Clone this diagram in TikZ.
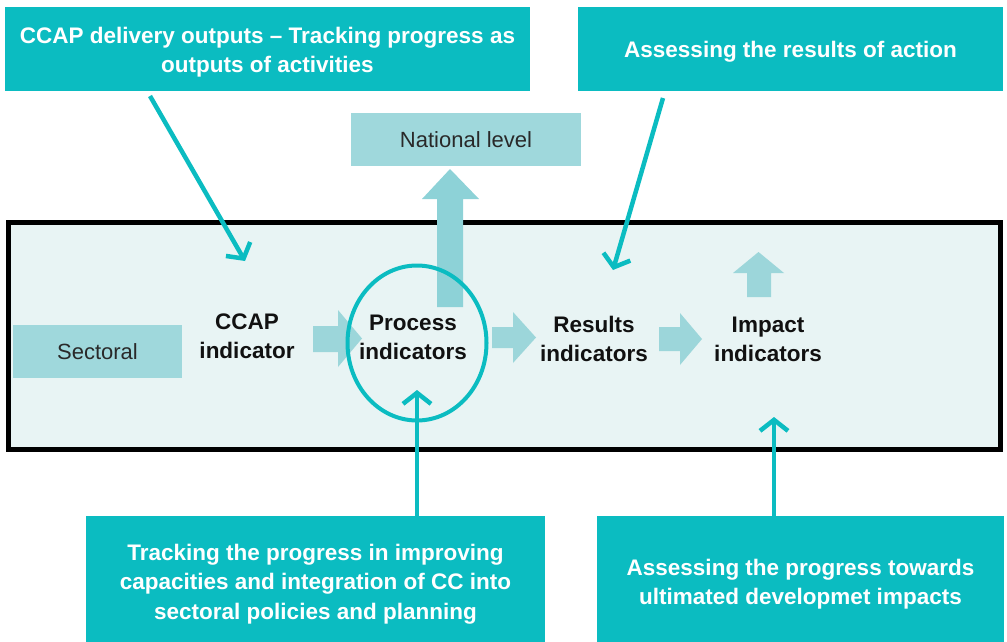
\documentclass[tikz,border=0pt]{standalone}
\usepackage{fontspec}
\setmainfont{Liberation Sans}
\usetikzlibrary{arrows.meta,shapes.geometric}
\definecolor{tealA}{HTML}{0BBCC1}
\definecolor{ltealA}{HTML}{9FD8DC}
\definecolor{fatA}{HTML}{9CD6DA}
\definecolor{shaftA}{HTML}{8DD2D7}
\definecolor{panelA}{HTML}{E8F4F4}
\definecolor{inkA}{HTML}{111111}
\begin{document}
\begin{tikzpicture}[x=1pt,y=-1pt,
  tealbox/.style={fill=tealA, inner sep=0pt},
  wtext/.style={text=white, font=\fontsize{22.5}{29.5}\selectfont\bfseries, align=center, inner sep=0pt},
  lbox/.style={fill=ltealA, text=inkA!90, font=\fontsize{22}{29}\selectfont, inner sep=0pt},
  lbl/.style={text=inkA, font=\fontsize{22.5}{29}\selectfont\bfseries, align=center, inner sep=0pt},
  pointer/.style={draw=tealA, line width=4.5pt, -{Straight Barb[length=11pt,width=28pt]}},
  fatarrow/.style={fill=fatA},
]
\useasboundingbox (0,0) rectangle (1007,642);

% main panel
\draw[fill=panelA, line width=5pt] (8.5,222.5) rectangle (1000,449.5);

% boxes
\node[tealbox, minimum width=525pt, minimum height=84pt] (tl) at (267.5,49) {};
\node[wtext] (tlt) at ([yshift=-3pt]tl.center) {CCAP delivery outputs -- Tracking progress as\\outputs of activities};
\node[tealbox, minimum width=425pt, minimum height=84pt] (tr) at (790.5,49) {};
\node[wtext] (trt) at ([yshift=-3pt]tr.center) {Assessing the results of action};
\node[tealbox, minimum width=459pt, minimum height=128pt] (bl) at (315.5,580) {};
\node[wtext] (blt) at ([yshift=-4pt]bl.center) {Tracking the progress in improving\\capacities and integration of CC into\\sectoral policies and planning};
\node[tealbox, minimum width=407pt, minimum height=128pt] (br) at (800.5,580) {};
\node[wtext] (brt) at ([yshift=-4pt]br.center) {Assessing the progress towards\\ultimated developmet impacts};
\node[lbox, minimum width=230pt, minimum height=53pt] (nat) at (466,139.5) {National level};
\node[lbox, minimum width=169pt, minimum height=53pt] (sec) at (97.5,351.5) {Sectoral};

% big up arrow to national level
\fill[shaftA] (437,307) -- (437,199) -- (422,199) -- (450,169) -- (479,199) -- (463,199) -- (463,307) -- cycle;
% small up arrow above impact
\fill[fatA] (747,297) -- (747,273) -- (733,273) -- (758.5,252) -- (784,273) -- (771,273) -- (771,297) -- cycle;

% fat right arrows
\fill[fatarrow] (313,326) -- (338,326) -- (338,310) -- (362,338.5) -- (338,367) -- (338,352) -- (313,352) -- cycle;
\fill[fatarrow] (492,327) -- (513,327) -- (513,312) -- (536,337.5) -- (513,363) -- (513,348) -- (492,348) -- cycle;
\fill[fatarrow] (659,327) -- (680,327) -- (680,313) -- (702,339) -- (680,365) -- (680,351) -- (659,351) -- cycle;

% circle and labels
\node[ellipse, draw=tealA, line width=4pt, minimum width=139pt, minimum height=155pt, inner sep=0pt] (circ) at (417,343) {};
\node[lbl] (ccap) at (247,336) {CCAP\\indicator};
\node[lbl] (proc) at (413,337) {Process\\indicators};
\node[lbl] (res) at (594,339) {Results\\indicators};
\node[lbl] (imp) at (768,339) {Impact\\indicators};

% pointers
\coordinate (p1s) at (150,96);
\coordinate (p1e) at (245,261);
\coordinate (p2s) at (663,98);
\coordinate (p2e) at (613,270);
\coordinate (p3s) at (417,516);
\coordinate (p3e) at (417,390);
\coordinate (p4s) at (774,516);
\coordinate (p4e) at (774,417);
\draw[pointer] (p1s) -- (p1e);
\draw[pointer] (p2s) -- (p2e);
\draw[pointer] (p3s) -- (p3e);
\draw[pointer] (p4s) -- (p4e);
\end{tikzpicture}
\end{document}
